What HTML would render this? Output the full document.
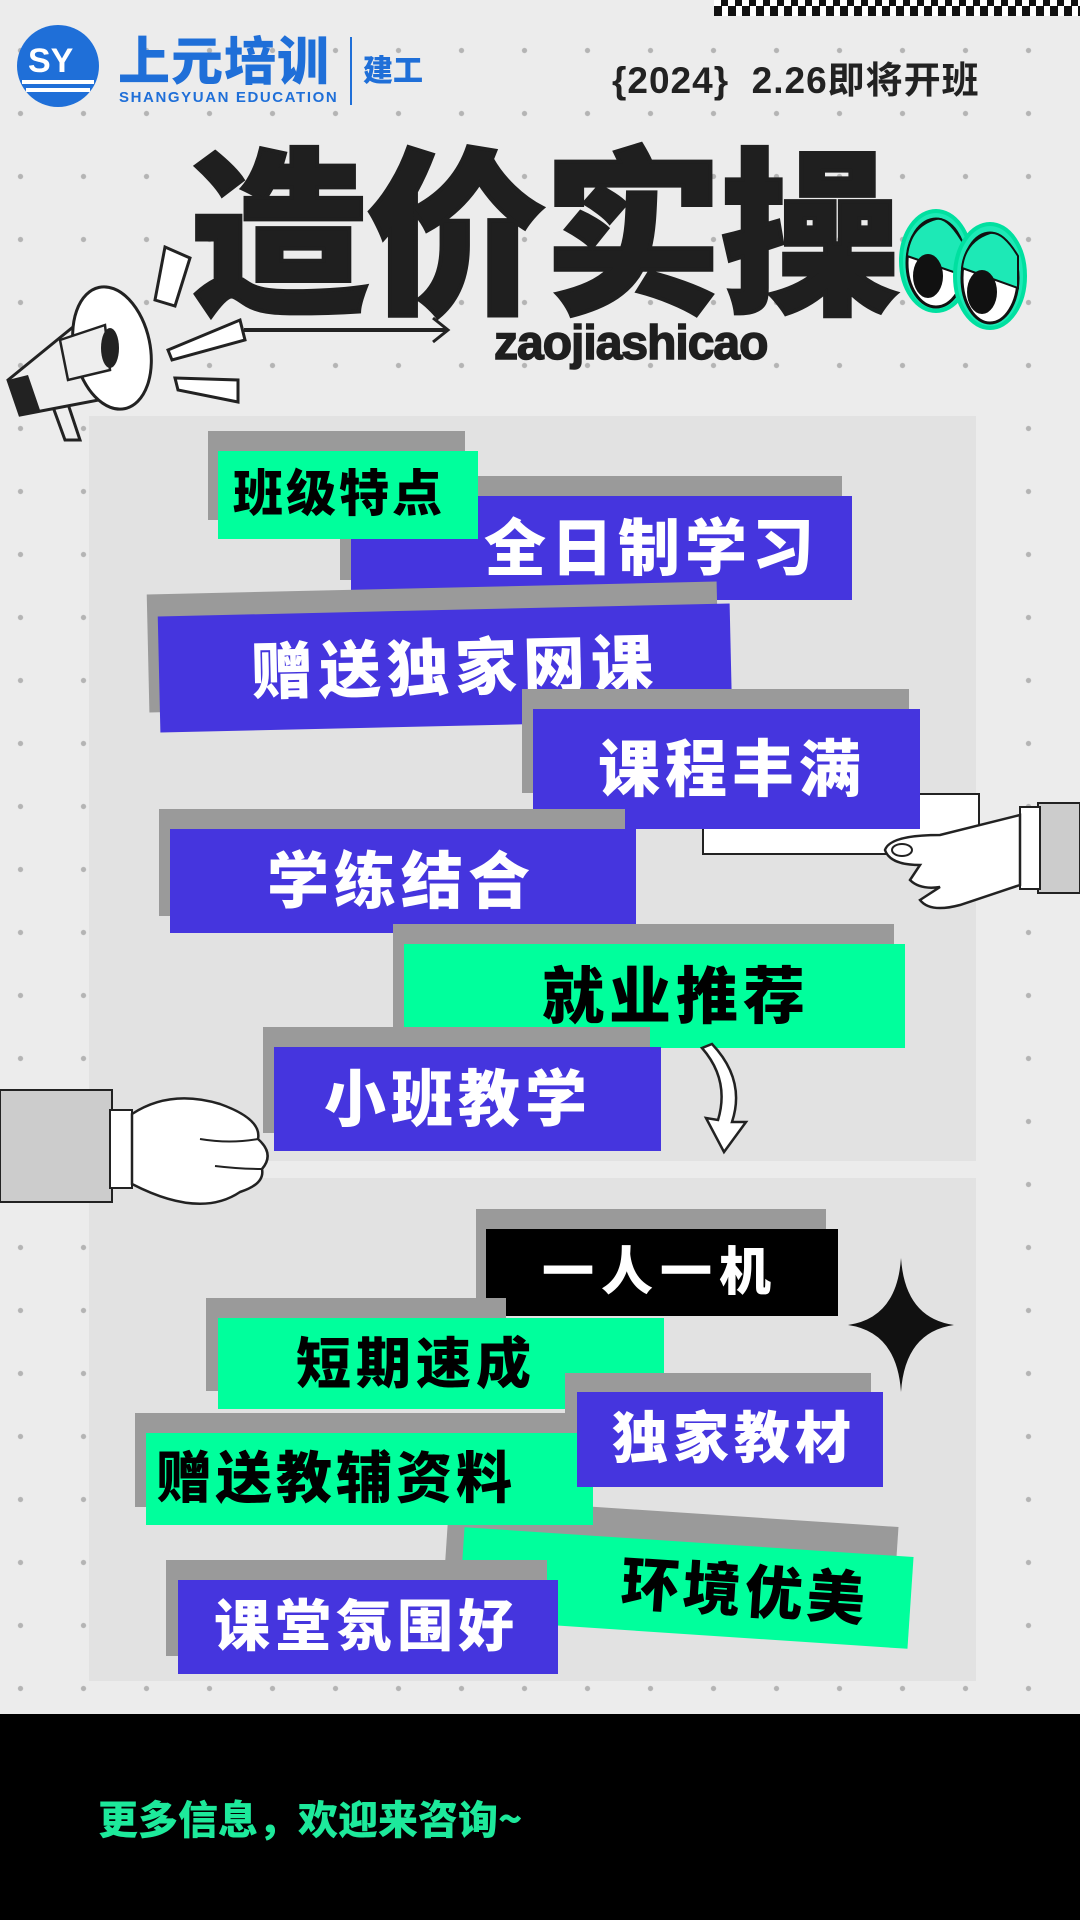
<!DOCTYPE html>
<html><head><meta charset="utf-8"><style>
*{margin:0;padding:0;box-sizing:border-box}
body{width:1080px;height:1920px;position:relative;overflow:hidden;background:#ececec;font-family:"Liberation Sans","Noto Sans CJK SC",sans-serif}
.dots{position:absolute;left:0;top:0;width:1080px;height:1714px;background-image:radial-gradient(circle,#b4b4b4 2.2px,transparent 3px);background-size:63px 63px;background-position:52px 19px}
.panel{position:absolute;background:#e2e2e2}
.b{position:absolute;display:flex;align-items:center;white-space:nowrap;font-family:"Noto Sans CJK SC",sans-serif;font-weight:900;padding-bottom:10px}
.g{position:absolute;background:#9a9a9a}
.blue{background:#4535de;color:#fff}
.grn{background:#00ff9c;color:#000}
.blk{background:#000;color:#fff}
</style></head><body>
<div class="dots"></div>
<div style="position:absolute;left:714px;top:0;width:366px;height:16px;background:repeating-linear-gradient(90deg,#111 0 8px,#fff 8px 14px)"></div>
<div style="position:absolute;left:714px;top:0;width:366px;height:6px;background:repeating-linear-gradient(90deg,#fff 0 7px,#111 7px 14px)"></div>
<svg style="position:absolute;left:16px;top:24px" width="84" height="84" viewBox="0 0 84 84">
<circle cx="42" cy="42" r="41" fill="#1f6fd8"/>
<text x="12" y="48" font-family="Liberation Sans" font-weight="bold" font-size="34" fill="#fff">SY</text>
<rect x="6" y="56" width="72" height="4" fill="#fff"/><rect x="10" y="64" width="64" height="4" fill="#fff"/>
</svg>
<div style="position:absolute;left:118px;top:28px;font-family:'Noto Sans CJK SC',sans-serif;font-weight:900;font-size:52px;color:#1f6fd8;letter-spacing:1px;line-height:60px">上元培训</div>
<div style="position:absolute;left:119px;top:89px;font-family:'Liberation Sans';font-weight:bold;font-size:15px;color:#1f6fd8;letter-spacing:1.6px">SHANGYUAN EDUCATION</div>
<div style="position:absolute;left:350px;top:37px;width:2px;height:68px;background:#1f6fd8"></div>
<div style="position:absolute;left:363px;top:46px;font-family:'Noto Sans CJK SC',sans-serif;font-weight:900;font-size:30px;color:#1f6fd8">建工</div>
<div style="position:absolute;left:612px;top:50px;font-family:'Liberation Sans','Noto Sans CJK SC',sans-serif;font-weight:bold;font-size:37px;color:#222;letter-spacing:1px">{2024}&nbsp; 2.26即将开班</div>
<div style="position:absolute;left:190px;top:118px;font-family:'Noto Sans CJK SC',sans-serif;font-weight:900;font-size:178px;line-height:210px;color:#1f1f1f;letter-spacing:-1px;-webkit-text-stroke:4px #1f1f1f">造价实操</div>
<div style="position:absolute;left:494px;top:316px;font-family:'Liberation Sans';font-weight:bold;font-size:48px;color:#1f1f1f;letter-spacing:-1px;-webkit-text-stroke:1.5px #1f1f1f">zaojiashicao</div>
<svg style="position:absolute;left:0;top:230px" width="460" height="220">
<line x1="244" y1="100" x2="448" y2="100" stroke="#222" stroke-width="4"/>
<path d="M433 88 L448 100 L433 112" fill="none" stroke="#222" stroke-width="3"/>
<polygon points="165,17 190,28 175,76 155,70" fill="#fff" stroke="#222" stroke-width="3"/>
<polygon points="168,120 240,90 245,110 172,130" fill="#fff" stroke="#222" stroke-width="3"/>
<polygon points="175,148 238,150 238,172 178,160" fill="#fff" stroke="#222" stroke-width="3"/>
<path d="M65 210 L80 210 L60 150 L45 155 Z" fill="#eee" stroke="#222" stroke-width="3"/>
<path d="M8 150 L100 75 L125 165 L20 185 Z" fill="#eee" stroke="#222" stroke-width="3"/>
<path d="M8 150 L20 185 L40 180 L28 145 Z" fill="#222"/>
<ellipse cx="112" cy="118" rx="38" ry="62" transform="rotate(-12 112 118)" fill="#fff" stroke="#222" stroke-width="3"/>
<path d="M60 110 L105 95 L110 140 L68 150 Z" fill="#eee" stroke="#222" stroke-width="2.5"/>
<ellipse cx="110" cy="118" rx="9" ry="20" fill="#222"/>
</svg>
<svg style="position:absolute;left:898px;top:206px" width="132" height="126">
<ellipse cx="38" cy="55" rx="35" ry="50" fill="#1de9b6" stroke="#00e0a0" stroke-width="4"/>
<ellipse cx="38" cy="57" rx="29" ry="44" fill="#fff" stroke="#111" stroke-width="3"/>
<path d="M9 50 L67 70 L67 40 Q50 10 38 13 Q12 20 9 50Z" fill="#1de9b6" stroke="#111" stroke-width="2"/>
<ellipse cx="30" cy="70" rx="15" ry="22" fill="#111"/>
<ellipse cx="92" cy="70" rx="35" ry="52" fill="#1de9b6" stroke="#00e0a0" stroke-width="4"/>
<ellipse cx="92" cy="72" rx="28" ry="45" fill="#fff" stroke="#111" stroke-width="3"/>
<path d="M64 62 L120 82 L120 50 Q105 25 92 27 Q67 35 64 62Z" fill="#1de9b6" stroke="#111" stroke-width="2"/>
<ellipse cx="84" cy="86" rx="15" ry="22" fill="#111"/>
</svg>
<div class="panel" style="left:89px;top:416px;width:887px;height:745px"></div>
<div class="panel" style="left:89px;top:1178px;width:887px;height:503px"></div>

<div class="g" style="left:208px;top:431px;width:257px;height:89px"></div>
<div class="g" style="left:340px;top:476px;width:502px;height:104px"></div>
<div class="b blue" style="left:351px;top:496px;width:501px;height:104px;padding-left:133px;font-size:62px;letter-spacing:5px">全日制学习</div>
<div class="b grn" style="left:218px;top:451px;width:260px;height:88px;padding-left:15px;font-size:50px;letter-spacing:3px">班级特点</div>

<div class="g" style="left:148px;top:588px;width:570px;height:118px;transform:rotate(-1.3deg)"></div>
<div class="b blue" style="left:159px;top:610px;width:572px;height:116px;padding-left:92px;font-size:62px;letter-spacing:6px;transform:rotate(-1.3deg)">赠送独家网课</div>

<div style="position:absolute;left:702px;top:793px;width:278px;height:62px;background:#fff;border:2px solid #222"></div>
<div class="g" style="left:522px;top:689px;width:387px;height:104px"></div>
<div class="b blue" style="left:533px;top:709px;width:387px;height:120px;padding-left:65px;font-size:62px;letter-spacing:5px">课程丰满</div>

<div class="g" style="left:159px;top:809px;width:466px;height:107px"></div>
<div class="b blue" style="left:170px;top:829px;width:466px;height:104px;padding-left:97px;font-size:62px;letter-spacing:5px">学练结合</div>

<div class="g" style="left:393px;top:924px;width:501px;height:104px"></div>
<div class="b grn" style="left:404px;top:944px;width:501px;height:104px;padding-left:138px;font-size:62px;letter-spacing:5px">就业推荐</div>

<div class="g" style="left:263px;top:1027px;width:387px;height:106px"></div>
<div class="b blue" style="left:274px;top:1047px;width:387px;height:104px;padding-left:50px;font-size:62px;letter-spacing:5px">小班教学</div>

<svg style="position:absolute;left:880px;top:795px" width="200" height="125">
<rect x="158" y="8" width="42" height="90" fill="#ccc" stroke="#222" stroke-width="2"/>
<rect x="140" y="12" width="20" height="82" fill="#fff" stroke="#222" stroke-width="2"/>
<path d="M140 20 L60 40 Q10 40 5 55 Q10 70 40 70 L30 85 Q40 95 60 92 L40 105 Q50 118 80 110 L140 90 Z" fill="#fff" stroke="#222" stroke-width="2.5"/>
<ellipse cx="22" cy="55" rx="10" ry="6" fill="none" stroke="#222" stroke-width="2"/>
</svg>
<svg style="position:absolute;left:0;top:1084px" width="280" height="130">
<rect x="0" y="6" width="112" height="112" fill="#ccc" stroke="#222" stroke-width="2"/>
<rect x="110" y="26" width="22" height="78" fill="#fff" stroke="#222" stroke-width="2"/>
<path d="M132 30 Q170 5 220 20 Q262 35 258 55 Q275 70 262 85 Q265 100 240 108 Q200 135 132 100 Z" fill="#fff" stroke="#222" stroke-width="2.5"/>
<path d="M200 55 Q230 60 258 55 M215 82 Q240 85 262 85" fill="none" stroke="#222" stroke-width="2"/>
</svg>
<svg style="position:absolute;left:690px;top:1040px" width="70" height="118">
<path d="M12 8 Q40 40 28 80 L16 78 L34 112 L56 82 L42 82 Q56 40 22 4 Z" fill="#fff" stroke="#222" stroke-width="2.5"/>
</svg>

<div class="g" style="left:476px;top:1209px;width:350px;height:90px"></div>
<div class="b blk" style="left:486px;top:1229px;width:352px;height:87px;padding-left:56px;font-size:52px;letter-spacing:7px">一人一机</div>

<div class="g" style="left:206px;top:1298px;width:300px;height:93px"></div>
<div class="b grn" style="left:218px;top:1318px;width:446px;height:91px;padding-left:78px;font-size:55px;letter-spacing:5px">短期速成</div>

<div class="g" style="left:565px;top:1373px;width:306px;height:93px"></div>

<div class="g" style="left:446px;top:1512px;width:450px;height:90px;transform:rotate(3.8deg)"></div>
<div class="b grn" style="left:461px;top:1542px;width:450px;height:92px;padding-left:160px;font-size:58px;letter-spacing:4px;transform:rotate(3.8deg)">环境优美</div>

<div class="g" style="left:135px;top:1413px;width:446px;height:94px"></div>
<div class="b grn" style="left:146px;top:1433px;width:447px;height:92px;padding-left:10px;font-size:56px;letter-spacing:4px">赠送教辅资料</div>

<div class="b blue" style="left:577px;top:1392px;width:306px;height:95px;padding-left:35px;font-size:56px;letter-spacing:5px">独家教材</div>

<div class="g" style="left:166px;top:1560px;width:381px;height:96px"></div>
<div class="b blue" style="left:178px;top:1580px;width:380px;height:94px;padding-left:36px;font-size:56px;letter-spacing:5px">课堂氛围好</div>

<svg style="position:absolute;left:848px;top:1258px" width="106" height="134">
<path d="M53 0 Q57 60 106 67 Q57 74 53 134 Q49 74 0 67 Q49 60 53 0Z" fill="#111"/>
</svg>

<div style="position:absolute;left:0;top:1714px;width:1080px;height:206px;background:#000"></div>
<div style="position:absolute;left:98px;top:1788px;font-family:'Noto Sans CJK SC',sans-serif;font-weight:900;font-size:40px;color:#1de99b">更多信息，欢迎来咨询~</div>
</body></html>
